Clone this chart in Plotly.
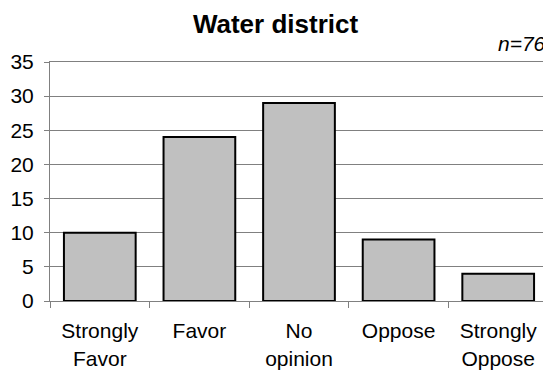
import plotly.graph_objects as go

categories = ["Strongly<br>Favor", "Favor", "No<br>opinion", "Oppose", "Strongly<br>Oppose"]
counts = [10, 24, 29, 9, 4]
y_ticks = [0, 5, 10, 15, 20, 25, 30, 35]
title_text = "Water district"
n_text = "n=76"

FONT = "Liberation Sans, Arial, sans-serif"
GRID = "#808080"

# page body has an 8px margin, so the figure is drawn 8px smaller
W, H = 543, 366

fig = go.Figure(
    go.Bar(
        x=categories,
        y=counts,
        width=0.72,
        marker=dict(color="#C0C0C0", line=dict(color="black", width=2)),
    )
)

fig.update_layout(
    width=W,
    height=H,
    margin=dict(l=41, r=2, t=54, b=73),
    plot_bgcolor="white",
    paper_bgcolor="white",
    showlegend=False,
    font=dict(family=FONT, size=21, color="black"),
    title=dict(
        text="<b>" + title_text + "</b>",
        x=267.5 / W,
        xanchor="center",
        y=1 - 16 / H,
        yanchor="middle",
        yref="container",
        font=dict(family=FONT, size=26, color="black"),
    ),
    annotations=[
        dict(
            text="<i>" + n_text + "</i>",
            xref="paper",
            yref="paper",
            x=1.0,
            y=1.0,
            xanchor="right",
            yanchor="bottom",
            yshift=5,
            showarrow=False,
            font=dict(family=FONT, size=21, color="black"),
        )
    ],
)

fig.update_xaxes(
    showline=True,
    linecolor=GRID,
    linewidth=1,
    mirror=True,
    ticks="outside",
    tickson="boundaries",
    ticklen=6,
    tickcolor=GRID,
    showgrid=False,
    ticklabelstandoff=11,
    tickfont=dict(size=21),
)

fig.update_yaxes(
    range=[0, 35],
    tickvals=y_ticks,
    showline=True,
    linecolor=GRID,
    linewidth=1,
    mirror=True,
    ticks="outside",
    ticklen=5,
    tickcolor=GRID,
    showgrid=True,
    gridcolor=GRID,
    gridwidth=1,
    zeroline=False,
    ticklabelstandoff=6,
    tickfont=dict(size=21),
)

fig.write_html("out.html")
